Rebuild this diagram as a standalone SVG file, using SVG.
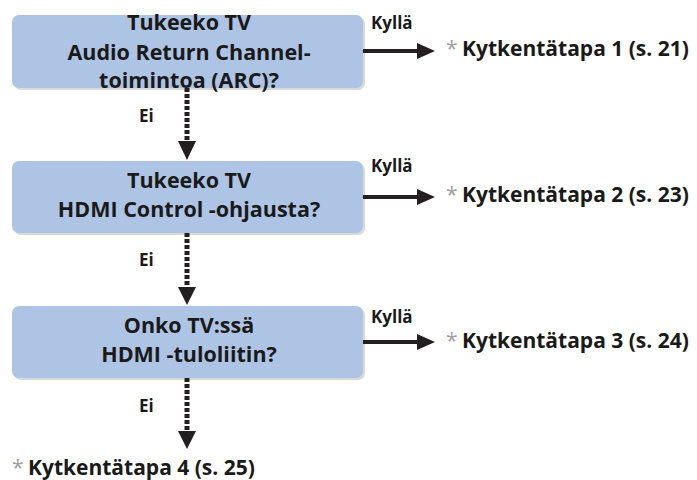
<svg xmlns="http://www.w3.org/2000/svg" width="697" height="480" viewBox="0 0 697 480">
<defs>
<style>
.box{fill:#aec4e5}
.shadow{fill:#d9d9d9}
.q{font-family:"Open Sans","Noto Sans",sans-serif;font-weight:700;font-size:21.5px;fill:#1a1a1a;text-anchor:middle}
.lbl{font-family:"Open Sans","Noto Sans",sans-serif;font-weight:700;font-size:17px;fill:#1a1a1a}
.res{font-family:"Open Sans","Noto Sans",sans-serif;font-weight:700;font-size:21px;fill:#1a1a1a}
.ast{fill:#a0a0a0;font-weight:400}
.solid{stroke:#231f20;stroke-width:4;fill:none}
.dot{stroke:#231f20;stroke-width:5;stroke-dasharray:4 2;fill:none}
.head{fill:#231f20}
</style>
</defs>
<g id="node1">
<rect class="shadow" x="14" y="17" width="351" height="73" rx="7"/>
<rect class="box" x="12" y="15" width="351" height="73" rx="7"/>
<text class="q" x="189" y="30">Tukeeko TV</text>
<text class="q" x="189" y="60">Audio Return Channel-</text>
<text class="q" x="189" y="88">toimintoa (ARC)?</text>
</g>
<g id="node2">
<rect class="shadow" x="14" y="163" width="351" height="72" rx="7"/>
<rect class="box" x="12" y="161" width="351" height="72" rx="7"/>
<text class="q" x="189" y="188">Tukeeko TV</text>
<text class="q" x="189" y="217">HDMI Control -ohjausta?</text>
</g>
<g id="node3">
<rect class="shadow" x="14" y="308" width="351" height="72" rx="7"/>
<rect class="box" x="12" y="306" width="351" height="72" rx="7"/>
<text class="q" x="189" y="333">Onko TV:ssä</text>
<text class="q" x="189" y="362">HDMI -tuloliitin?</text>
</g>
<g id="result1"><text class="res" y="56"><tspan class="ast" x="446">*</tspan><tspan x="462">Kytkentätapa 1 (s. 21)</tspan></text></g>
<g id="result2"><text class="res" y="202"><tspan class="ast" x="446">*</tspan><tspan x="462">Kytkentätapa 2 (s. 23)</tspan></text></g>
<g id="result3"><text class="res" y="348"><tspan class="ast" x="446">*</tspan><tspan x="462">Kytkentätapa 3 (s. 24)</tspan></text></g>
<g id="result4"><text class="res" y="475"><tspan class="ast" x="12">*</tspan><tspan x="28">Kytkentätapa 4 (s. 25)</tspan></text></g>
<g id="connectors">
<line class="solid" x1="363" y1="51" x2="418" y2="51"/>
<polygon class="head" points="417,43 435,51 417,59"/>
<text class="lbl" x="371" y="29">Kyllä</text>
<line class="solid" x1="363" y1="197" x2="418" y2="197"/>
<polygon class="head" points="417,189 435,197 417,205"/>
<text class="lbl" x="371" y="172">Kyllä</text>
<line class="solid" x1="363" y1="342" x2="418" y2="342"/>
<polygon class="head" points="417,334 435,342 417,350"/>
<text class="lbl" x="371" y="323">Kyllä</text>
<line class="dot" x1="187" y1="88" x2="187" y2="142"/>
<polygon class="head" points="178,141 196,141 187,160"/>
<text class="lbl" x="139" y="122">Ei</text>
<line class="dot" x1="187" y1="233" x2="187" y2="288"/>
<polygon class="head" points="178,287 196,287 187,305"/>
<text class="lbl" x="139" y="266">Ei</text>
<line class="dot" x1="187" y1="378" x2="187" y2="432"/>
<polygon class="head" points="178,431 196,431 187,449"/>
<text class="lbl" x="139" y="412">Ei</text>
</g>
</svg>
